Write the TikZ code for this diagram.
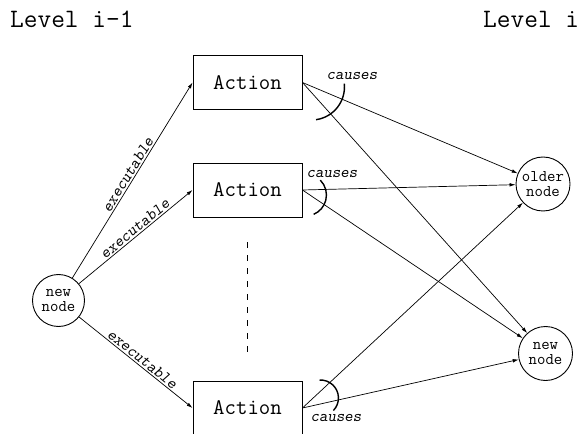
\documentclass[tikz,border=0pt]{standalone}
\usetikzlibrary{arrows.meta}
\begin{document}
\begin{tikzpicture}[x=1bp,y=-1bp,
  leveltext/.style={font=\fontsize{26.7}{30}\selectfont\ttfamily, inner sep=0pt},
  actionbox/.style={draw, line width=0.9bp, minimum width=109bp, minimum height=54bp,
    inner sep=0pt, font=\fontsize{22.3}{25}\selectfont\ttfamily},
  statenode/.style={draw, circle, line width=0.9bp, minimum size=54bp, inner sep=0pt,
    align=center, font=\fontsize{16.4}{15.5}\selectfont\ttfamily},
  edge/.style={line width=0.7bp, -{Latex[length=6bp,width=3.6bp]}},
  lbl/.style={font=\fontsize{16.2}{18}\selectfont\ttfamily\slshape, inner sep=1.5bp},
  causearc/.style={line width=1.4bp},
  gapline/.style={line width=1.8bp, dash pattern=on 6bp off 7bp},
]
\useasboundingbox (0,0) rectangle (584,434);

% level headings
\node[leveltext, anchor=base west] (lvlA) at (10,28) {Level i-1};
\node[leveltext, anchor=base west] (lvlB) at (483,28) {Level i};

% actions of level i-1
\node[actionbox] (a1) at (247.5,82.5) {Action};
\node[actionbox] (a2) at (247.5,190) {Action};
\node[actionbox] (a3) at (247.5,408) {Action};

% state nodes
\node[statenode, minimum size=52bp] (nl) at (58.5,300.5) {new\\node};
\node[statenode] (old) at (543,184) {older\\node};
\node[statenode] (nr) at (545.5,353.5) {new\\node};

% executable edges
\draw[edge] (nl) -- node[lbl, sloped, above, pos=0.51] {executable} (a1.west);
\draw[edge] (nl) -- node[lbl, sloped, above, pos=0.53] {executable} (a2.west);
\draw[edge] (nl) -- node[lbl, sloped, above, pos=0.52] {executable} (a3.west);

% effects of the actions
\draw[edge] (a1.east) -- (old);
\draw[edge] (a1.east) -- (nr);
\draw[edge] (a2.east) -- (old);
\draw[edge] (a2.east) -- (nr);
\draw[edge] (a3.east) -- (old);
\draw[edge] (a3.east) -- (nr);

% causes arcs
\draw[causearc] ([shift={(9,4.5)}]a1.east) ++(-6:33) arc[start angle=-6, end angle=82, radius=33];
\draw[causearc] ([shift={(3,5)}]a2.east) ++(-45:21) arc[start angle=-45, end angle=67, radius=21];
\draw[causearc] ([shift={(18,-10)}]a3.east) ++(-93:18) arc[start angle=-93, end angle=44, radius=18];
\node[lbl] (c1) at (352,76) {causes};
\node[lbl] (c2) at (332,174) {causes};
\node[lbl] (c3) at (336,418) {causes};

% omitted actions
\draw[gapline, shorten <=25bp, shorten >=24bp] (a2) -- (a3);
\end{tikzpicture}
\end{document}
